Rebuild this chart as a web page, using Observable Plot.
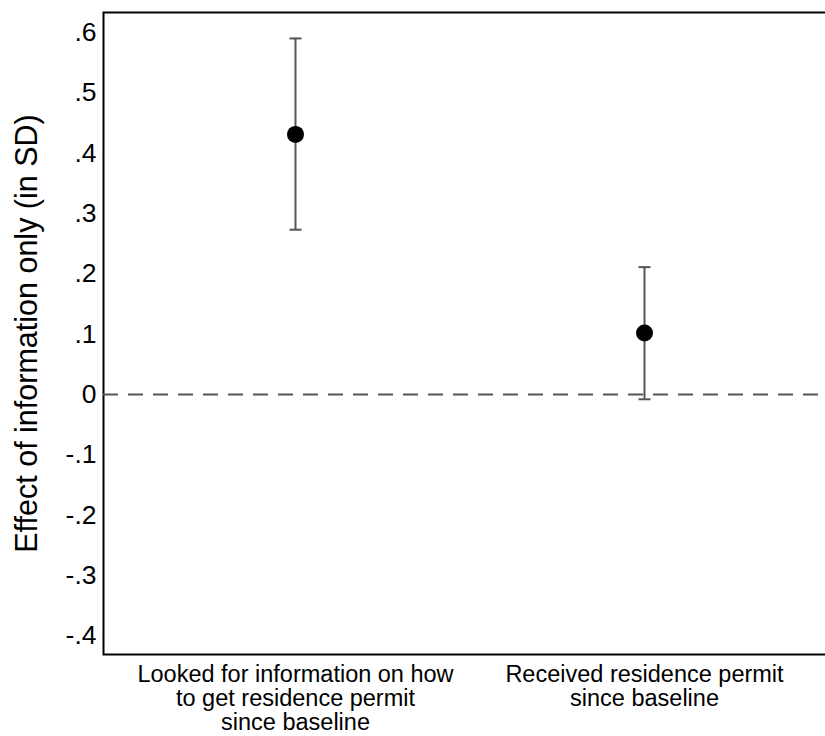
<!DOCTYPE html>
<html>
<head>
<meta charset="utf-8">
<script src="https://cdn.jsdelivr.net/npm/d3@7"></script>
<script src="https://cdn.jsdelivr.net/npm/@observablehq/plot@0.6"></script>
<style>
  html, body { margin: 0; padding: 0; background: #fff; overflow: hidden; }
  #chart svg { display: block; }
</style>
</head>
<body>
<div id="chart"></div>
<script>
const categories = [
  "Looked for information on how\nto get residence permit\nsince baseline",
  "Received residence permit\nsince baseline"
];
const estimates = [0.431, 0.102];
const ciLow = [0.273, -0.008];
const ciHigh = [0.590, 0.211];
const yTicks = [-0.4, -0.3, -0.2, -0.1, 0, 0.1, 0.2, 0.3, 0.4, 0.5, 0.6];
const yTickLabels = ["-.4", "-.3", "-.2", "-.1", "0", ".1", ".2", ".3", ".4", ".5", ".6"];
const yTitle = "Effect of information only (in SD)";

const rows = categories.map((c, i) => ({cat: c, est: estimates[i], lo: ciLow[i], hi: ciHigh[i]}));
const font = "Liberation Sans, Arial, Helvetica, sans-serif";

// horizontal-line symbol for error-bar caps (half-width = r)
const capSymbol = {
  draw(context, size) {
    const w = Math.sqrt(size / Math.PI);
    context.moveTo(-w, 0);
    context.lineTo(w, 0);
  }
};

const chart = Plot.plot({
  width: 825,
  height: 736,
  marginTop: 12,
  marginBottom: 82,
  marginLeft: 103,
  marginRight: -11,
  style: {fontFamily: font, background: "#fff", color: "#000"},
  x: {type: "point", domain: categories, padding: 0.55},
  y: {domain: [-0.431, 0.633]},
  marks: [
    Plot.frame({stroke: "#000", strokeWidth: 2}),
    Plot.ruleY([0], {stroke: "#555", strokeWidth: 2, strokeDasharray: "15,10"}),
    Plot.ruleX(rows, {x: "cat", y1: "lo", y2: "hi", stroke: "#555", strokeWidth: 2}),
    Plot.dot(rows, {x: "cat", y: "lo", r: 6, symbol: capSymbol, stroke: "#555", strokeWidth: 2, fill: "none"}),
    Plot.dot(rows, {x: "cat", y: "hi", r: 6, symbol: capSymbol, stroke: "#555", strokeWidth: 2, fill: "none"}),
    Plot.dot(rows, {x: "cat", y: "est", r: 8.5, fill: "#000", stroke: "none"}),
    Plot.axisY(yTicks, {
      tickSize: 0, tickPadding: 7, fontSize: 26.5,
      tickFormat: (d) => yTickLabels[yTicks.indexOf(d)],
      label: null
    }),
    Plot.text([yTitle], {
      frameAnchor: "left", rotate: -90, dx: -88, fontSize: 30.5,
      textAnchor: "middle", lineAnchor: "top", fill: "#000"
    }),
    Plot.axisX({tickSize: 0, tickPadding: 10, fontSize: 23.5, lineHeight: 1.03, label: null})
  ]
});

document.getElementById("chart").appendChild(chart);
</script>
</body>
</html>
